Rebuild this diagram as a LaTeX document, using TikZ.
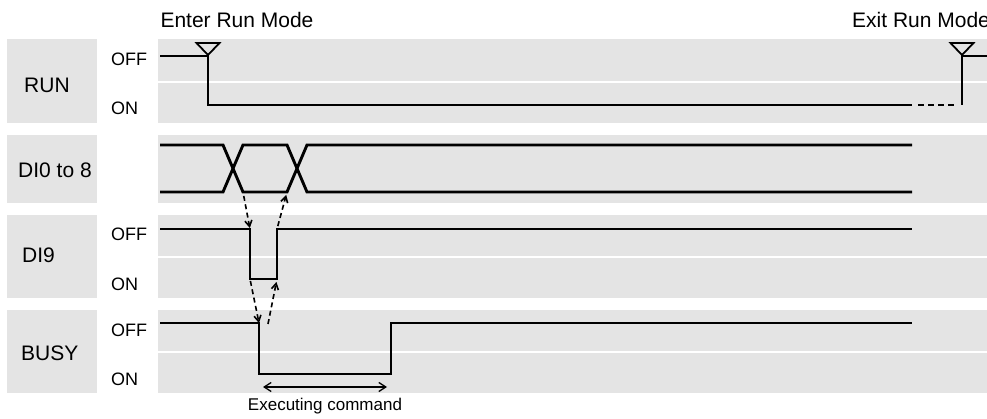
\documentclass[tikz,border=0pt]{standalone}
\usepackage{fontspec}
\setmainfont{Liberation Sans}
\usepackage{tikz}
\usetikzlibrary{arrows.meta}
\definecolor{bandgray}{HTML}{E4E4E4}

\begin{document}
\begin{tikzpicture}[x=1pt,y=-1pt,every node/.style={inner sep=0pt},
	band/.style={fill=bandgray},
	sig/.style={line width=2.9pt},
	flag/.style={line width=1.8pt,line join=miter},
	hint/.style={line width=1.6pt,dash pattern=on 5pt off 3.5pt,-{Straight Barb[length=6pt,width=7pt]}},
	rowname/.style={anchor=base west,font=\fontsize{21}{24}\selectfont},
	level/.style={anchor=base west,font=\fontsize{18}{21}\selectfont}]
	
	\useasboundingbox (0,0) rectangle (987,419);
	
	% background bands
	\fill[band] (7,39) rectangle (97,123);
	\fill[band] (158,39) rectangle (987,81);
	\fill[band] (158,83) rectangle (987,123);
	\fill[band] (7,135) rectangle (97,203);
	\fill[band] (158,135) rectangle (987,203);
	\fill[band] (7,215) rectangle (97,298);
	\fill[band] (158,215) rectangle (987,256);
	\fill[band] (158,258) rectangle (987,298);
	\fill[band] (7,310) rectangle (97,393);
	\fill[band] (158,310) rectangle (987,351);
	\fill[band] (158,353) rectangle (987,393);
	
	% row names
	\node[rowname] (run) at (24,93) {RUN};
	\node[rowname] (dio) at (18,178) {DI0 to 8};
	\node[rowname] (dinine) at (22,263) {DI9};
	\node[rowname] (busy) at (21,360) {BUSY};
	
	\node[level] (run-off) at (111,66) {OFF};
	\node[level] (run-on) at (111,115) {ON};
	\node[level] (dinine-off) at (111,241) {OFF};
	\node[level] (dinine-on) at (111,291) {ON};
	\node[level] (busy-off) at (111,336) {OFF};
	\node[level] (busy-on) at (111,385) {ON};
	
	\node[rowname,anchor=base] (enter-txt) at (237,28) {Enter Run Mode};
	\node[rowname] (exit-txt) at (852,28) {Exit Run Mode};
	
	% edges
	\coordinate (enter) at (208,55);
	\coordinate (exit) at (962,55);
	\coordinate (sw1) at (243,192);
	\coordinate (sw2) at (287,192);
	\coordinate (di9-fall) at (250,229);
	\coordinate (di9-rise) at (277,229);
	\coordinate (di9-fall-lo) at (250,279);
	\coordinate (di9-rise-lo) at (277,279);
	\coordinate (busy-fall) at (259,323);
	\coordinate (busy-ack) at (268,324);
	\coordinate (exec-l) at (263,387);
	\coordinate (exec-r) at (387,387);
	
	% RUN
	\draw[sig] (160,56) -- (208,56) -- (208,105) -- (912,105);
	\draw[sig,dash pattern=on 6pt off 4pt] (918,105) -- (957,105);
	\draw[sig] (962,105) -- (962,56) -- (987,56);
	\draw[flag] (enter) -- ++(-11.5,-12) -- ++(23,0) -- cycle;
	\draw[flag] (exit) -- ++(-11.5,-12) -- ++(23,0) -- cycle;
	
	% DI0 to 8
	\draw[sig] (160,145) -- (223,145) -- (sw1) -- (sw2) -- (307,145) -- (912,145);
	\draw[sig] (160,192) -- (223,192) -- (243,145) -- (287,145) -- (307,192) -- (912,192);
	
	% DI9
	\draw[sig] (160,229) -- (di9-fall) -- (di9-fall-lo) -- (di9-rise-lo) -- (di9-rise) -- (912,229);
	
	% BUSY
	\draw[sig] (160,323) -- (busy-fall) -- (259,374) -- (391,374) -- (391,323) -- (912,323);
	
	% handshake
	\draw[hint,shorten <=4pt,shorten >=1pt] (sw1) -- (di9-fall);
	\draw[hint,shorten <=3pt,shorten >=3pt] (di9-rise) -- (sw2);
	\draw[hint,shorten <=2pt,shorten >=0pt] (di9-fall-lo) -- (busy-fall);
	\draw[hint,shorten >=3pt] (busy-ack) -- (di9-rise-lo);
	
	\draw[line width=1.3pt,{Straight Barb[length=7pt,width=9pt]}-{Straight Barb[length=7pt,width=9pt]}] (exec-l) -- (exec-r);
	\node[anchor=base,font=\fontsize{17}{20}\selectfont] (exec) at (325,410) {Executing command};
	
\end{tikzpicture}
\end{document}
